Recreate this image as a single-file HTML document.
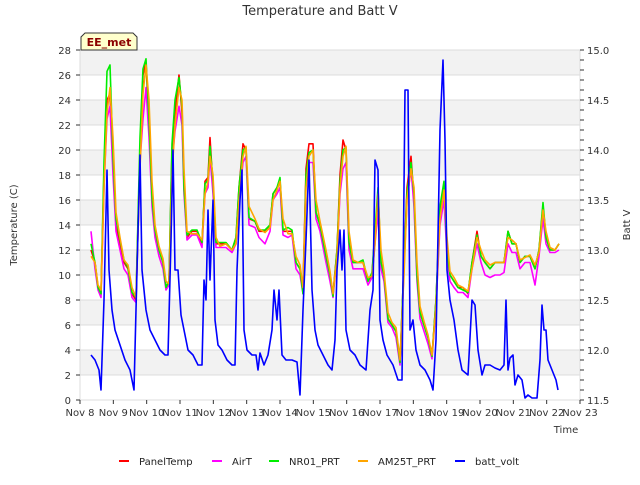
<!DOCTYPE html>
<html><head><meta charset="utf-8"><style>
body{margin:0;background:#fff;}
svg text{font-family:"DejaVu Sans","Liberation Sans",sans-serif;}
</style></head><body>
<svg id="chart" width="640" height="480" viewBox="0 0 640 480" xmlns="http://www.w3.org/2000/svg">
<rect width="640" height="480" fill="#fff"/>
<g id="bands"></g>
<g id="grid"></g>
<g id="series"></g>
<g id="axes"></g>
<text x="320" y="15" text-anchor="middle" font-size="13" fill="#333">Temperature and Batt V</text>
<text transform="translate(17,225) rotate(-90)" text-anchor="middle" font-size="10" fill="#333">Temperature (C)</text>
<text transform="translate(630,225) rotate(-90)" text-anchor="middle" font-size="10" fill="#333">Batt V</text>
<text x="566" y="433" text-anchor="middle" font-size="10" fill="#333">Time</text>
<g>
<path d="M81,50 L81,37 L85,33 L133,33 L137,37 L137,50 Z" fill="#ffffcc" stroke="#333" stroke-width="1"/>
<text x="109" y="46" text-anchor="middle" font-size="11" font-weight="bold" fill="#8b0000">EE_met</text>
</g>
<g id="legend"></g>
</svg>
<script>
const xTicks=["Nov 8","Nov 9","Nov 10","Nov 11","Nov 12","Nov 13","Nov 14","Nov 15","Nov 16","Nov 17","Nov 18","Nov 19","Nov 20","Nov 21","Nov 22","Nov 23"];
const yTicks=[0,2,4,6,8,10,12,14,16,18,20,22,24,26,28];
const y2Ticks=[11.5,12.0,12.5,13.0,13.5,14.0,14.5,15.0];
const tTimes=[0.33,0.45,0.54,0.63,0.72,0.81,0.9,0.99,1.08,1.2,1.32,1.44,1.56,1.68,1.8,1.89,1.98,2.07,2.16,2.25,2.37,2.49,2.58,2.67,2.76,2.85,2.97,3.06,3.12,3.21,3.36,3.51,3.66,3.75,3.84,3.9,3.99,4.08,4.2,4.38,4.56,4.68,4.77,4.89,4.98,5.07,5.25,5.37,5.55,5.7,5.79,5.91,6.0,6.09,6.24,6.36,6.48,6.6,6.69,6.78,6.87,6.99,7.08,7.2,7.38,7.5,7.59,7.71,7.8,7.89,7.98,8.07,8.19,8.34,8.49,8.64,8.76,8.85,8.94,9.03,9.12,9.24,9.36,9.48,9.6,9.72,9.81,9.93,10.02,10.11,10.2,10.32,10.44,10.56,10.68,10.8,10.92,11.01,11.1,11.22,11.34,11.49,11.64,11.76,11.91,12.03,12.15,12.3,12.45,12.6,12.72,12.84,12.96,13.08,13.2,13.35,13.5,13.65,13.77,13.89,13.98,14.1,14.25,14.37];
const panelTemp=[12,11,9,8.5,18,24,24.5,19,14,12.5,11,10.5,8.5,8,20,26,27,22,16,13.5,12,11,9,9.5,20,23,26,23,17,13,13.5,13.5,12.5,17.5,17.8,21,17,12.5,12.5,12.5,12,13,17,20.5,20,14.5,14.3,13.5,13.5,14,16.5,17,17.5,13.5,13.5,13.5,11,10.5,9,18.5,20.5,20.5,15,14,11.5,10,8.5,12,18,20.8,20,12.5,11,11,11,9.5,10,13.5,16,11,10,6.5,6,5.5,3,11,17,19.5,16,10,7,6,5,3.5,8,15,17,12,10,9.5,9,9,8.5,11,13.5,11.5,11,10.5,11,11,11,13.5,12.5,12.5,11,11.5,11.5,10.5,12,15.5,13,12,12,12.5];
const airT=[13.5,10.5,8.8,8.2,17,22.5,23.5,18,13.5,12,10.5,10,8.2,7.8,19,22.5,25,21,15.5,13,11.5,10.5,8.8,9.2,19,21.5,23.5,22,16.5,12.8,13.2,13.2,12.2,16.5,17,19.5,16.5,12.2,12.2,12.2,11.8,12.5,16,19,19.5,14,13.8,13,12.5,13.5,16,16.5,17,13.2,13,13.2,10.5,10,8.5,17.5,19,19,14.5,13.5,11,9.5,8.2,11.5,16.5,18.5,19,12,10.5,10.5,10.5,9.2,9.8,12.5,15,10.5,9.5,6.2,5.8,5,2.8,10.5,16,18.5,15.5,9.5,6.5,5.5,4.5,3.3,7.5,14,16,11.5,9.5,9,8.6,8.6,8.2,10.5,12.5,11,10,9.8,10,10,10.2,12.5,11.8,11.8,10.5,11,11,9.2,11.5,14.5,12.5,11.8,11.8,12];
const nr01=[12.5,11,9,8.5,19,26.3,26.8,19.5,14.5,12.8,11.2,10.6,8.6,8.2,21,26.5,27.3,22.5,16.2,13.6,12,11,9,9.5,20.5,24,25.8,23.5,17,13.2,13.6,13.6,12.6,17.3,17.6,20.3,17.5,12.6,12.6,12.6,12,13,17,20,20.2,14.6,14.3,13.6,13.6,14,16.5,17,17.8,13.6,13.8,13.6,11,10.5,8.5,18,19.8,20,15,14,11.5,10,8.3,12,17.5,20,20.2,12.6,11,11,11.2,9.5,10.2,13.5,17,11,10,6.5,6,5.5,3,11,16.5,19,16.5,10,7,6,5,3.5,8,15.5,17.5,12,10,9.5,9,8.8,8.6,11,13.2,11.5,11,10.5,11,11,11,13.5,12.5,12.5,11,11.5,11.5,10.5,12,15.8,13,12,12,12.5];
const am25t=[11.5,11,9.2,8.8,17,23,25,21,15,13,11.2,10.8,9,8.2,18.5,24.5,26.8,24,17.5,14,12.3,11.3,9.5,9.3,18,22,25,24,18.5,13.5,13.3,13.3,12.8,16.5,17.5,19.5,18,13,12.3,12.5,12,12.5,16,19.5,20.3,15.5,14.5,13.7,13.4,13.8,16,16.8,17.5,14.5,13.3,13.3,11.5,10.8,9,17,19.5,20,16,14.3,12,10.3,8.5,11.5,17,19.5,20.3,13.5,11.2,11,11,9.8,9.9,12.5,16.5,12,10.3,7,6.2,5.8,3.2,10,16,18.5,17,11,7.5,6.3,5.2,3.6,7.5,14.5,16.8,13,10.3,9.8,9.2,9,8.7,10.5,13,12,11.2,10.8,11,11,11,13,12.8,12.5,11.2,11.4,11.6,10.8,11.8,15.2,13.5,12.2,12,12.5];
const bTimes=[0.33,0.45,0.57,0.63,0.72,0.81,0.87,0.96,1.05,1.2,1.35,1.5,1.62,1.71,1.8,1.86,1.98,2.1,2.25,2.4,2.55,2.64,2.73,2.79,2.85,2.94,3.03,3.12,3.24,3.39,3.54,3.66,3.72,3.78,3.84,3.9,3.99,4.05,4.14,4.26,4.41,4.56,4.65,4.71,4.8,4.86,4.92,5.01,5.16,5.28,5.34,5.4,5.52,5.64,5.76,5.82,5.91,5.97,6.06,6.18,6.36,6.51,6.6,6.69,6.78,6.87,6.96,7.05,7.14,7.29,7.44,7.56,7.65,7.71,7.8,7.86,7.92,7.98,8.1,8.25,8.4,8.58,8.7,8.79,8.85,8.94,9.0,9.09,9.21,9.39,9.54,9.66,9.75,9.84,9.9,9.99,10.08,10.2,10.35,10.5,10.59,10.68,10.8,10.89,10.95,11.01,11.1,11.22,11.34,11.46,11.64,11.76,11.85,11.94,12.06,12.15,12.3,12.45,12.6,12.72,12.78,12.84,12.9,12.99,13.05,13.14,13.26,13.35,13.44,13.56,13.71,13.8,13.86,13.92,13.98,14.04,14.16,14.28,14.34];
const battVolt=[11.95,11.9,11.8,11.6,12.5,13.8,12.8,12.4,12.2,12.05,11.9,11.8,11.6,12.8,13.95,12.8,12.4,12.2,12.1,12.0,11.95,11.95,13.1,14.0,12.8,12.8,12.35,12.2,12.0,11.95,11.85,11.85,12.7,12.5,13.4,12.7,13.5,12.3,12.05,12.0,11.9,11.85,11.85,12.8,13.5,13.8,12.2,12.0,11.95,11.95,11.8,11.97,11.85,11.95,12.2,12.6,12.3,12.6,11.95,11.9,11.9,11.88,11.55,12.4,13.1,13.9,12.6,12.2,12.05,11.95,11.85,11.8,12.1,12.8,13.2,12.8,13.2,12.2,12.0,11.95,11.85,11.8,12.4,12.6,13.9,13.8,12.3,12.1,11.95,11.85,11.7,11.7,14.6,14.6,12.2,12.3,12.0,11.85,11.8,11.7,11.6,12.1,14.2,14.9,14.1,12.8,12.5,12.3,12.0,11.8,11.75,12.5,12.45,12.0,11.75,11.85,11.85,11.82,11.8,11.85,12.5,11.8,11.92,11.95,11.65,11.75,11.7,11.52,11.55,11.52,11.52,11.9,12.45,12.2,12.2,11.9,11.8,11.7,11.6];

const X0=80,X1=580,Y0=400,Y1=50;
const xs=d=>X0+d*(X1-X0)/15;
const ys=t=>Y0-t*(Y0-Y1)/28;
const ys2=v=>Y0-(v-11.5)*(Y0-Y1)/3.5;
const NS="http://www.w3.org/2000/svg";
function mk(tag,attrs,parent){const e=document.createElementNS(NS,tag);for(const k in attrs)e.setAttribute(k,attrs[k]);parent.appendChild(e);return e;}
const bands=document.getElementById('bands'),grid=document.getElementById('grid'),axes=document.getElementById('axes'),series=document.getElementById('series'),legend=document.getElementById('legend');
for(let k=2;k<28;k+=4){
 const r=mk('rect',{x:X0,y:ys(k+2),width:X1-X0,height:ys(k)-ys(k+2),fill:'#f2f2f2'},bands);
 
 
}
yTicks.forEach(t=>{
 const l=mk('line',{x1:X0,x2:X1,y1:ys(t),y2:ys(t),stroke:'#dcdcdc','stroke-width':1},grid);
 
 
 mk('line',{x1:X0-4,x2:X0,y1:ys(t),y2:ys(t),stroke:'#333'},axes);
 const tx=mk('text',{x:X0-9,y:ys(t)+4,'text-anchor':'end','font-size':10,fill:'#333'},axes);
 tx.textContent=t;
 
 
});
mk('line',{x1:X0,x2:X0,y1:Y1,y2:Y0,stroke:'#dcdcdc'},grid);
mk('line',{x1:X1,x2:X1,y1:Y1,y2:Y0,stroke:'#dcdcdc'},grid);
for(let i=0;i<=35;i++){const v=11.5+i*0.1;mk('line',{x1:X1,x2:X1+4,y1:ys2(v),y2:ys2(v),stroke:'#333'},axes);}
y2Ticks.forEach(v=>{
 const tx=mk('text',{x:X1+7,y:ys2(v)+4,'font-size':10,fill:'#333'},axes);
 tx.textContent=v.toFixed(1);
 
 
});
xTicks.forEach((s,i)=>{
 mk('line',{x1:xs(i),x2:xs(i),y1:Y0,y2:Y0+4,stroke:'#333'},axes);
 const tx=mk('text',{x:xs(i),y:Y0+16,'text-anchor':'middle','font-size':10,fill:'#333'},axes);
 tx.textContent=s;
 
 
});
function line(times,vals,yf,color,name){
 const d=times.map((t,i)=>(i?'L':'M')+xs(t).toFixed(1)+','+yf(vals[i]).toFixed(1)).join(' ');
 const p=mk('path',{d:d,fill:'none',stroke:color,'stroke-width':1.6,'stroke-linejoin':'round'},series);
 
 
}
line(tTimes,panelTemp,ys,'#ff0000','series-paneltemp');
line(tTimes,airT,ys,'#ff00ff','series-airt');
line(tTimes,nr01,ys,'#00ee00','series-nr01-prt');
line(tTimes,am25t,ys,'#ffa500','series-am25t-prt');
line(bTimes,battVolt,ys2,'#0000ff','series-batt-volt');
const leg=[["PanelTemp","#ff0000",119],["AirT","#ff00ff",212],["NR01_PRT","#00ee00",269],["AM25T_PRT","#ffa500",358],["batt_volt","#0000ff",455]];
leg.forEach(([n,c,x])=>{
 const g=mk('g',{},legend);
 
 
 mk('line',{x1:x,x2:x+10,y1:461,y2:461,stroke:c,'stroke-width':2},g);
 const t=mk('text',{x:x+20,y:465,'font-size':10,fill:'#222'},g);
 t.textContent=n;
});
</script>
</body></html>
